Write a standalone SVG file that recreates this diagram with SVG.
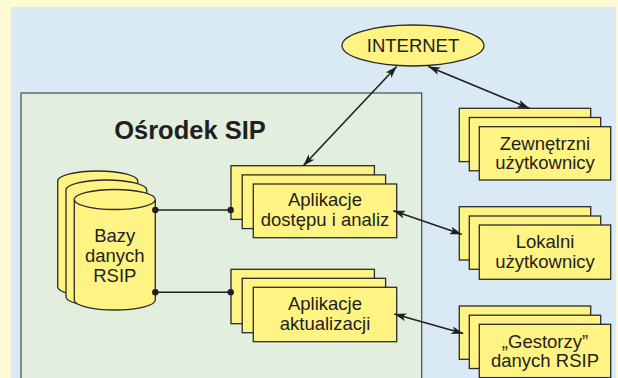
<svg xmlns="http://www.w3.org/2000/svg" width="618" height="378" viewBox="0 0 618 378">
<style>
.box{fill:#fff383;stroke:#2a2a2a;stroke-width:1.3}
.t{font-family:"Liberation Sans",Arial,sans-serif;font-size:18.5px;fill:#231f20;text-anchor:middle}
.title{font-family:"Liberation Sans",Arial,sans-serif;font-size:25.5px;font-weight:bold;fill:#231f20;text-anchor:middle}
.ln{stroke:#231f20;stroke-width:1.6;fill:none}
.dot{fill:#231f20}
</style>
<defs>
<marker id="ah" viewBox="0 0 12 8" refX="12" refY="4" markerWidth="12" markerHeight="8" markerUnits="userSpaceOnUse" orient="auto-start-reverse">
<path d="M0,0 L12,4 L0,8 L3,4 Z" fill="#231f20"/>
</marker>
</defs>
<rect x="0" y="0" width="618" height="378" fill="#fffad6"/>
<rect x="11" y="7" width="605" height="372" fill="#d9eaf5"/>
<rect id="panel" x="21" y="93" width="400.7" height="290" fill="#e3efde" stroke="#4a4a4a" stroke-width="1.2"/>
<text class="title" x="190" y="139">Ośrodek SIP</text>

<g id="internet">
<ellipse cx="413" cy="45.5" rx="71" ry="20.5" class="box"/>
<text class="t" x="413" y="52">INTERNET</text>
</g>

<g id="bazy">
<path class="box" d="M57.7,181 v105.7 a40,10 0 0 0 80,0 v-105.7 a40,10 0 0 0 -80,0 z"/>
<path class="box" d="M66,190 v106.7 a40.3,10 0 0 0 80.7,0 v-106.7 a40.3,10 0 0 0 -80.7,0 z"/>
<path class="box" d="M74.3,199.5 v100.5 a40.5,10 0 0 0 81,0 v-100.5 a40.5,10 0 0 0 -81,0 z"/>
<path class="box" d="M74.3,199.5 a40.5,10 0 0 0 81,0" fill="none"/>
<text class="t" x="114.8" y="242">Bazy</text>
<text class="t" x="114.8" y="262">danych</text>
<text class="t" x="114.8" y="282">RSIP</text>
</g>

<g id="app-dostepu">
<rect class="box" x="231" y="165.7" width="143.4" height="53.7"/>
<rect class="box" x="242.2" y="174.9" width="143.4" height="53.7"/>
<rect class="box" x="253.3" y="184" width="143.4" height="53.7"/>
<text class="t" x="325" y="206">Aplikacje</text>
<text class="t" x="325" y="226">dostępu i analiz</text>
</g>

<g id="app-aktualizacji">
<rect class="box" x="231" y="269.3" width="143.4" height="54.4"/>
<rect class="box" x="242.2" y="278.3" width="143.4" height="54.4"/>
<rect class="box" x="253.3" y="287.3" width="143.4" height="54.4"/>
<text class="t" x="325" y="309.5">Aplikacje</text>
<text class="t" x="325" y="329.5">aktualizacji</text>
</g>

<g id="zewnetrzni">
<rect class="box" x="459.3" y="108.3" width="131.4" height="53.3"/>
<rect class="box" x="469.3" y="117.5" width="131.4" height="53.3"/>
<rect class="box" x="479.3" y="126.7" width="131.4" height="53.3"/>
<text class="t" x="545" y="149.5">Zewnętrzni</text>
<text class="t" x="545" y="168.5">użytkownicy</text>
</g>

<g id="lokalni">
<rect class="box" x="459.3" y="206.7" width="131.4" height="53.3"/>
<rect class="box" x="469.3" y="216" width="131.4" height="53.3"/>
<rect class="box" x="479.3" y="225" width="131.4" height="54.3"/>
<text class="t" x="545" y="248">Lokalni</text>
<text class="t" x="545" y="267.5">użytkownicy</text>
</g>

<g id="gestorzy">
<rect class="box" x="459.3" y="306" width="131.4" height="53.3"/>
<rect class="box" x="469.3" y="315.2" width="131.4" height="53.3"/>
<rect class="box" x="479.3" y="324.3" width="131.4" height="53.3"/>
<text class="t" x="545" y="347.7">„Gestorzy”</text>
<text class="t" x="545" y="366.7">danych RSIP</text>
</g>

<g id="connectors">
<line class="ln" x1="155.3" y1="210" x2="230.7" y2="210"/>
<circle class="dot" cx="155.3" cy="210" r="3.2"/>
<circle class="dot" cx="230.7" cy="210" r="3.2"/>
<line class="ln" x1="155.3" y1="292.3" x2="230.7" y2="292.3"/>
<circle class="dot" cx="155.3" cy="292.3" r="3.2"/>
<circle class="dot" cx="230.7" cy="292.3" r="3.2"/>
<line class="ln" x1="396.7" y1="66.5" x2="303.3" y2="165.7" marker-start="url(#ah)" marker-end="url(#ah)"/>
<line class="ln" x1="428.3" y1="66.5" x2="529.3" y2="108.3" marker-start="url(#ah)" marker-end="url(#ah)"/>
<line class="ln" x1="393.3" y1="210.7" x2="461.7" y2="234.3" marker-start="url(#ah)" marker-end="url(#ah)"/>
<line class="ln" x1="394.3" y1="314" x2="463.3" y2="333.5" marker-start="url(#ah)" marker-end="url(#ah)"/>
</g>
</svg>
